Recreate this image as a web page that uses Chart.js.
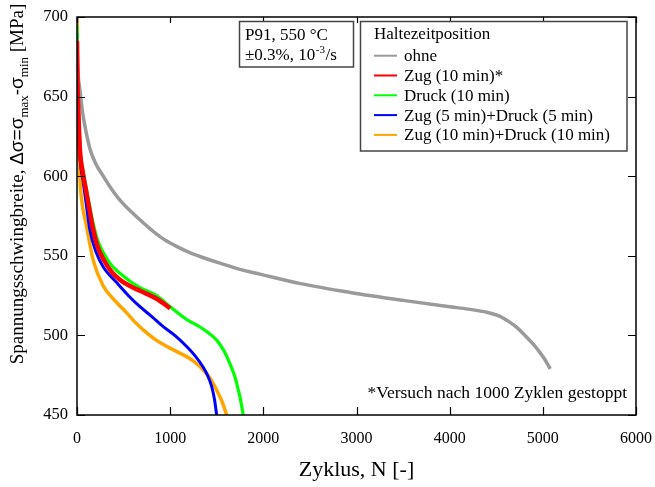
<!DOCTYPE html>
<html><head><meta charset="utf-8">
<script src="https://cdn.jsdelivr.net/npm/chart.js@4.4.1/dist/chart.umd.min.js"></script>
<style>html,body{margin:0;padding:0;background:#fff}#wrap{width:655px;height:487px}</style>
</head><body><div id="wrap"><canvas id="c" width="655" height="487"></canvas></div>
<script>
const xTickValues = [0, 1000, 2000, 3000, 4000, 5000, 6000];
const yTickValues = [450, 500, 550, 600, 650, 700];
const seriesLabels = ['ohne', 'Zug (10 min)*', 'Druck (10 min)', 'Zug (5 min)+Druck (5 min)', 'Zug (10 min)+Druck (10 min)'];

const ohneN = [0, 3, 10, 30, 60, 100, 140, 200, 282, 370, 461, 640, 890, 1000, 1100, 1250, 1500, 1750, 1963, 2400, 2929, 3500, 4002, 4200, 4400, 4540, 4640, 4720, 4800, 4890, 4960, 5020, 5080];
const ohneV = [700, 680, 666, 655, 640, 627, 617, 608, 600, 592, 585, 574.5, 562, 558, 555, 551, 546, 541.5, 538.5, 532.5, 527, 522, 518, 516.5, 514.5, 512, 508.5, 505, 500.5, 495, 490, 485, 479];

const zugN = [0, 5, 14, 32, 60, 100, 140, 175, 220, 282, 370, 461, 570, 676, 855, 1000];
const zugV = [685, 660, 642, 616, 603, 590, 577, 566, 556, 548, 540, 535, 531, 528, 523, 517];

const druckN = [0, 5, 14, 32, 60, 100, 140, 175, 220, 282, 370, 461, 570, 676, 855, 1000, 1177, 1300, 1391, 1499, 1560, 1606, 1650, 1695, 1730, 1749, 1784];
const druckV = [695, 662, 644, 618, 605, 592, 580, 570, 560, 552, 544, 539, 534, 530, 525, 518, 510, 506, 502.5, 497, 492, 487, 481, 474, 466, 461.5, 450];

const zug5N = [0, 5, 14, 32, 68, 100, 139, 200, 282, 429, 569, 676, 800, 926, 1050, 1177, 1270, 1355, 1400, 1445, 1475, 1499];
const zug5V = [690, 658, 638, 612, 596, 582, 566, 553, 543, 533, 524, 518, 512, 505.5, 500, 493, 487, 480, 475, 468, 460, 450];

const zug10N = [0, 5, 14, 32, 50, 104, 175, 282, 389, 461, 536, 620, 711, 850, 998, 1248, 1391, 1450, 1499, 1560, 1606];
const zug10V = [698, 650, 628, 598, 585, 568, 547, 531, 523, 518.5, 514, 508.5, 503.5, 497, 492, 484, 476, 471, 465.7, 458, 450];

const SERIF = "'Liberation Serif','Times New Roman',serif";
const SANS = "'Liberation Sans',Arial,sans-serif";

function pts(n, v) { return n.map((x, i) => ({ x: x, y: v[i] })); }

const styles = [
  { color: '#9a9a9a', w: 3.5 },
  { color: '#ff0000', w: 4.5 },
  { color: '#00ff00', w: 3.2 },
  { color: '#0000ff', w: 3 },
  { color: '#ffa500', w: 3.5 }
];
const seriesData = [pts(ohneN, ohneV), pts(zugN, zugV), pts(druckN, druckV), pts(zug5N, zug5V), pts(zug10N, zug10V)];

const drawOrder = [0, 4, 3, 2, 1];
const datasets = seriesData.map((d, i) => ({
  label: seriesLabels[i], data: d, showLine: true, pointRadius: 0,
  borderColor: styles[i].color, backgroundColor: styles[i].color,
  borderWidth: styles[i].w, cubicInterpolationMode: 'monotone',
  order: -drawOrder.indexOf(i)
}));

const overlayPlugin = {
  id: 'overlay',
  afterDatasetsDraw(chart) {
    const { ctx, chartArea: a, scales: { x, y } } = chart;
    ctx.save();
    ctx.strokeStyle = '#000'; ctx.lineWidth = 1.5;
    ctx.strokeRect(a.left, a.top, a.right - a.left, a.bottom - a.top);
    ctx.lineWidth = 1.2;
    ctx.beginPath();
    xTickValues.forEach(v => {
      const p = Math.round(x.getPixelForValue(v)) + 0.5;
      ctx.moveTo(p, a.bottom); ctx.lineTo(p, a.bottom - 8);
      ctx.moveTo(p, a.top); ctx.lineTo(p, a.top + 6);
    });
    yTickValues.forEach(v => {
      const p = Math.round(y.getPixelForValue(v)) + 0.5;
      ctx.moveTo(a.left, p); ctx.lineTo(a.left + 8, p);
      ctx.moveTo(a.right, p); ctx.lineTo(a.right - 8, p);
    });
    ctx.stroke();

    // annotation box
    ctx.fillStyle = '#fff';
    ctx.fillRect(239.5, 21.5, 114, 45.5);
    ctx.strokeStyle = '#444'; ctx.lineWidth = 1.5;
    ctx.strokeRect(239.5, 21.5, 114, 45.5);
    ctx.fillStyle = '#000';
    ctx.textBaseline = 'alphabetic'; ctx.textAlign = 'left';
    ctx.font = '17px ' + SERIF;
    ctx.fillText('P91, 550 °C', 245, 40);
    let tx = 245;
    const s1 = '±0.3%, 10';
    ctx.fillText(s1, tx, 60); tx += ctx.measureText(s1).width;
    ctx.font = '11px ' + SERIF;
    ctx.fillText('-3', tx + 0.5, 53); tx += ctx.measureText('-3').width + 1;
    ctx.font = '17px ' + SERIF;
    ctx.fillText('/s', tx, 60);

    // legend
    ctx.fillStyle = '#fff';
    ctx.fillRect(360.5, 21.5, 266.5, 129.5);
    ctx.strokeStyle = '#444'; ctx.lineWidth = 1.5;
    ctx.strokeRect(360.5, 21.5, 266.5, 129.5);
    ctx.fillStyle = '#000';
    ctx.font = '17px ' + SERIF;
    ctx.fillText('Haltezeitposition', 374, 38.5);
    chart.data.datasets.forEach((ds, i) => {
      const cy = 55.7 + i * 19.8;
      ctx.strokeStyle = ds.borderColor; ctx.lineWidth = 2;
      ctx.beginPath(); ctx.moveTo(374, cy); ctx.lineTo(397, cy); ctx.stroke();
      ctx.fillStyle = '#000';
      ctx.fillText(ds.label, 404, cy + 5.5);
    });

    // footnote
    ctx.textAlign = 'right';
    ctx.font = '17.5px ' + SERIF;
    ctx.fillText('*Versuch nach 1000 Zyklen gestoppt', 627, 398);
    ctx.restore();
  },
  afterDraw(chart) {
    const { ctx } = chart;
    ctx.save();
    const parts = [
      { t: 'Spannungsschwingbreite, ', f: '19px ' + SERIF, dy: 0 },
      { t: 'Δσ=σ', f: '19px ' + SANS, dy: 0 },
      { t: 'max', f: '13px ' + SERIF, dy: 5 },
      { t: '-σ', f: '19px ' + SANS, dy: 0 },
      { t: 'min', f: '13px ' + SERIF, dy: 5 },
      { t: ' [MPa]', f: '19px ' + SERIF, dy: 0 }
    ];
    let total = 0;
    parts.forEach(p => { ctx.font = p.f; p.w = ctx.measureText(p.t).width; total += p.w; });
    ctx.translate(23, 184);
    ctx.rotate(-Math.PI / 2);
    ctx.fillStyle = '#000';
    ctx.textBaseline = 'alphabetic'; ctx.textAlign = 'left';
    let px = -total / 2;
    parts.forEach(p => { ctx.font = p.f; ctx.fillText(p.t, px, p.dy); px += p.w; });
    ctx.restore();
  }
};

new Chart(document.getElementById('c'), {
  type: 'scatter',
  data: { datasets: datasets },
  options: {
    responsive: false, animation: false,
    layout: { padding: { top: 17, right: 19, left: 0, bottom: 0 } },
    plugins: { legend: { display: false }, tooltip: { enabled: false } },
    scales: {
      x: {
        type: 'linear', min: 0, max: 6000,
        afterBuildTicks: s => { s.ticks = xTickValues.map(v => ({ value: v })); },
        afterFit: s => { s.height = 72; s.paddingLeft = 0; s.paddingRight = 0; },
        ticks: { color: '#000', font: { family: SERIF, size: 16 }, padding: 14, maxRotation: 0, callback: v => String(v) },
        grid: { display: true, drawOnChartArea: false, drawTicks: false },
        border: { display: false },
        title: { display: true, text: 'Zyklus, N [-]', color: '#000', font: { family: SERIF, size: 22 }, padding: { top: 12 } }
      },
      y: {
        type: 'linear', min: 450, max: 700,
        afterBuildTicks: s => { s.ticks = yTickValues.map(v => ({ value: v })); },
        afterFit: s => { s.width = 77; s.paddingTop = 0; s.paddingBottom = 0; },
        ticks: { color: '#000', font: { family: SERIF, size: 16.5 }, padding: 9, callback: v => String(v) },
        grid: { display: true, drawOnChartArea: false, drawTicks: false },
        border: { display: false }
      }
    }
  },
  plugins: [overlayPlugin]
});
</script>
</body></html>
